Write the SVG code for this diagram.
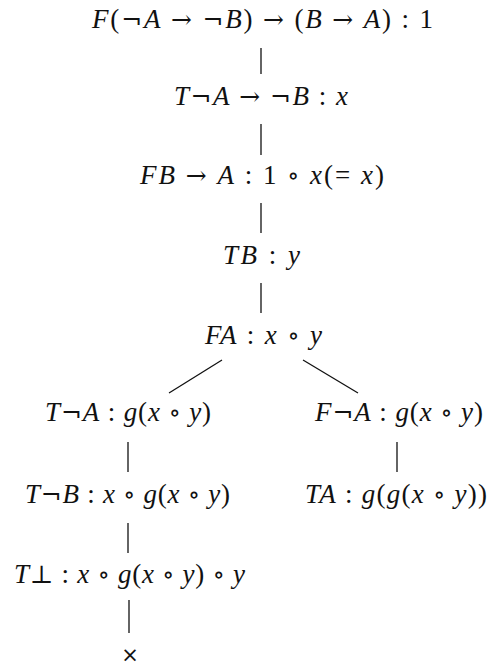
<svg xmlns="http://www.w3.org/2000/svg" width="488" height="667" viewBox="0 0 488 667">
<style>
text{font-family:"Liberation Serif","DejaVu Serif",serif;font-size:27px;fill:#111;}
.i{font-style:italic;}
.s{font-family:"DejaVu Serif",serif;font-size:25px;}
.c line{stroke:#111;stroke-width:1.3;}
</style>
<rect width="488" height="667" fill="#fff"/>
<g class="c" id="connectors">
<line x1="261" y1="48" x2="261" y2="74"/>
<line x1="261" y1="124" x2="261" y2="155"/>
<line x1="261" y1="203" x2="261" y2="233"/>
<line x1="261" y1="283" x2="261" y2="313"/>
<line x1="222" y1="360" x2="169" y2="393"/>
<line x1="303" y1="360" x2="358" y2="393"/>
<line x1="128" y1="442" x2="128" y2="472"/>
<line x1="397" y1="442" x2="397" y2="472"/>
<line x1="128" y1="523" x2="128" y2="553"/>
<line x1="129" y1="600" x2="129" y2="633"/>
</g>
<g id="n1"><text x="92" y="28" textLength="341" lengthAdjust="spacing"><tspan class="i">F</tspan>(<tspan class="s">¬</tspan><tspan class="i">A</tspan> <tspan class="s">→</tspan> <tspan class="s">¬</tspan><tspan class="i">B</tspan>) <tspan class="s">→</tspan> (<tspan class="i">B</tspan> <tspan class="s">→</tspan> <tspan class="i">A</tspan>) : 1</text></g>
<g id="n2"><text x="174" y="105" textLength="174" lengthAdjust="spacing"><tspan class="i">T</tspan><tspan class="s">¬</tspan><tspan class="i">A</tspan> <tspan class="s">→</tspan> <tspan class="s">¬</tspan><tspan class="i">B</tspan> : <tspan class="i">x</tspan></text></g>
<g id="n3"><text x="140" y="184" textLength="244" lengthAdjust="spacing"><tspan class="i">FB</tspan> <tspan class="s">→</tspan> <tspan class="i">A</tspan> : 1 <tspan class="s">∘</tspan> <tspan class="i">x</tspan>(= <tspan class="i">x</tspan>)</text></g>
<g id="n4"><text x="223" y="264" textLength="77" lengthAdjust="spacing"><tspan class="i">TB</tspan> : <tspan class="i">y</tspan></text></g>
<g id="n5"><text x="205" y="344" textLength="117" lengthAdjust="spacing"><tspan class="i">FA</tspan> : <tspan class="i">x</tspan> <tspan class="s">∘</tspan> <tspan class="i">y</tspan></text></g>
<g id="n6"><text x="45" y="421" textLength="166" lengthAdjust="spacing"><tspan class="i">T</tspan><tspan class="s">¬</tspan><tspan class="i">A</tspan> : <tspan class="i">g</tspan>(<tspan class="i">x</tspan> <tspan class="s">∘</tspan> <tspan class="i">y</tspan>)</text></g>
<g id="n7"><text x="315" y="421" textLength="168" lengthAdjust="spacing"><tspan class="i">F</tspan><tspan class="s">¬</tspan><tspan class="i">A</tspan> : <tspan class="i">g</tspan>(<tspan class="i">x</tspan> <tspan class="s">∘</tspan> <tspan class="i">y</tspan>)</text></g>
<g id="n8"><text x="25" y="503" textLength="205" lengthAdjust="spacing"><tspan class="i">T</tspan><tspan class="s">¬</tspan><tspan class="i">B</tspan> : <tspan class="i">x</tspan> <tspan class="s">∘</tspan> <tspan class="i">g</tspan>(<tspan class="i">x</tspan> <tspan class="s">∘</tspan> <tspan class="i">y</tspan>)</text></g>
<g id="n9"><text x="305" y="503" textLength="182" lengthAdjust="spacing"><tspan class="i">TA</tspan> : <tspan class="i">g</tspan>(<tspan class="i">g</tspan>(<tspan class="i">x</tspan> <tspan class="s">∘</tspan> <tspan class="i">y</tspan>))</text></g>
<g id="n10"><text x="14" y="583" textLength="231" lengthAdjust="spacing"><tspan class="i">T</tspan><tspan class="s">⊥</tspan> : <tspan class="i">x</tspan> <tspan class="s">∘</tspan> <tspan class="i">g</tspan>(<tspan class="i">x</tspan> <tspan class="s">∘</tspan> <tspan class="i">y</tspan>) <tspan class="s">∘</tspan> <tspan class="i">y</tspan></text></g>
<g id="n11"><text x="130" y="662" text-anchor="middle" style="font-family:'DejaVu Sans',sans-serif;font-size:21px">×</text></g>
</svg>
